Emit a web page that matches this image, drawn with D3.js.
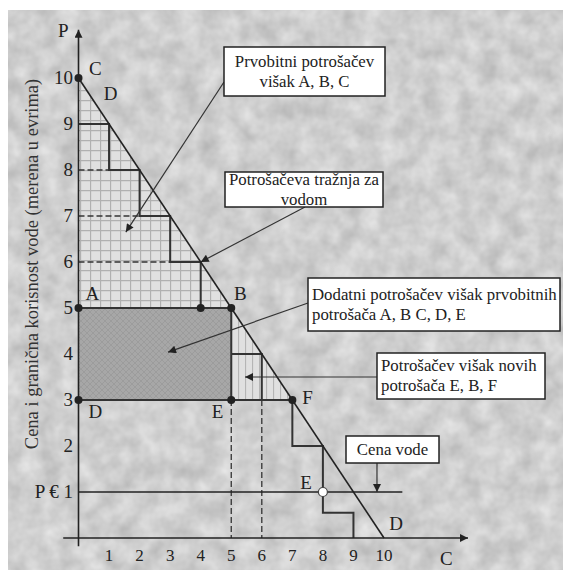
<!DOCTYPE html>
<html lang="en">
<head>
<meta charset="utf-8">
<title>Potrošačev višak - voda</title>
<script src="https://d3js.org/d3.v7.min.js"></script>
<style>
  body { margin: 0; background: #fff; }
</style>
</head>
<body>
<script>
// data (quantity C, price P)
const demandLine = [[0, 10], [10, 0]];
const stepsUpper = [[0, 9], [1, 9], [1, 8], [2, 8], [2, 7], [3, 7], [3, 6], [4, 6], [4, 5]];
const stepsLower = [[5, 4], [6, 4], [6, 3]];
const stepsTail = [[7, 3], [7, 2], [8, 2], [8, 0.55], [9, 0.55], [9, 0]];
const waterPrice = 1;
const priceLineEnd = 10.6;
const rectABED = { x0: 0, x1: 5, y0: 3, y1: 5 };
const triangleABC = [[0, 5], [0, 10], [5, 5]];
const triangleEBF = [[5, 5], [5, 3], [7, 3]];
const dashedH = [[8, 1], [7, 2], [6, 3]];      // [price, end quantity]
const dashedV = [5, 6];
const lineAF = [[0, 5], [5, 5]];
const lineDF = [[0, 3], [7, 3]];
const lineBE = [[5, 5], [5, 3]];
const dots = [[0, 10], [0, 5], [4, 5], [5, 5], [0, 3], [5, 3], [7, 3]];
const hollowDot = [8, 1];
const xTicks = [1, 2, 3, 4, 5, 6, 7, 8, 9, 10];
const yTicks = [2, 3, 4, 5, 6, 7, 8, 9, 10];
const pointLabels = [
  { t: "C", x: 0.55, y: 10.2 }, { t: "D", x: 1.05, y: 9.65 },
  { t: "A", x: 0.45, y: 5.3 }, { t: "B", x: 5.3, y: 5.3 },
  { t: "D", x: 0.55, y: 2.75 }, { t: "E", x: 4.55, y: 2.75 },
  { t: "F", x: 7.5, y: 3.05 }, { t: "E", x: 7.45, y: 1.2 },
  { t: "D", x: 10.4, y: 0.3 }
];
const notes = [
  { lines: ["Prvobitni potrošačev", "višak A, B, C"], box: [224, 47, 161, 49], from: [224, 82], tip: [1.55, 6.65], left: false },
  { lines: ["Potrošačeva tražnja za", "vodom"], box: [225, 172, 158, 35], from: [305, 207], tip: [4, 6], left: false },
  { lines: ["Dodatni potrošačev višak prvobitnih", "potrošača A, B C, D, E"], box: [308, 278, 252, 53], from: [308, 303], tip: [2.93, 4.04], left: true },
  { lines: ["Potrošačev višak novih", "potrošača E, B, F"], box: [377, 353, 168, 46], from: [377, 377], tip: [5.45, 3.5], left: true },
  { lines: ["Cena vode"], box: [346, 436, 93, 27], from: [377, 463], tip: [9.77, 1], left: false }
];

const w = 563, h = 570;
const svg = d3.select("body").append("svg").attr("width", w).attr("height", h)
  .attr("font-family", "'Liberation Serif', 'Times New Roman', 'DejaVu Serif', serif");
const defs = svg.append("defs");

// mottled paper background
const f = defs.append("filter").attr("id", "paper").attr("x", 0).attr("y", 0).attr("width", 1).attr("height", 1)
  .attr("color-interpolation-filters", "sRGB");
f.append("feTurbulence").attr("type", "fractalNoise").attr("baseFrequency", 0.05).attr("numOctaves", 3).attr("seed", 4);
f.append("feColorMatrix").attr("type", "matrix")
  .attr("values", "0.22 0 0 0 0.7  0.22 0 0 0 0.7  0.22 0 0 0 0.7  0 0 0 0 1");

const grid = defs.append("pattern").attr("id", "grid").attr("patternUnits", "userSpaceOnUse")
  .attr("width", 10).attr("height", 10);
grid.append("rect").attr("width", 10).attr("height", 10).attr("fill", "#e0e0e0");
grid.append("path").attr("d", "M0,0.5H10M0.5,0V10").attr("stroke", "#b0b0b0").attr("stroke-width", 1.3);

const vlines = defs.append("pattern").attr("id", "vlines").attr("patternUnits", "userSpaceOnUse")
  .attr("width", 7).attr("height", 7);
vlines.append("rect").attr("width", 7).attr("height", 7).attr("fill", "#e0e0e0");
vlines.append("path").attr("d", "M0.5,0V7").attr("stroke", "#b5b5b5").attr("stroke-width", 1.2);

const cross = defs.append("pattern").attr("id", "cross").attr("patternUnits", "userSpaceOnUse")
  .attr("width", 6).attr("height", 6);
cross.append("rect").attr("width", 6).attr("height", 6).attr("fill", "#a7a7a7");
cross.append("path").attr("d", "M0,0L6,6M6,0L0,6").attr("stroke", "#999").attr("stroke-width", 0.8);

const arrow = defs.append("marker").attr("id", "arr").attr("viewBox", "0 0 10 10")
  .attr("refX", 10).attr("refY", 5).attr("markerWidth", 13).attr("markerHeight", 8)
  .attr("markerUnits", "userSpaceOnUse").attr("orient", "auto");
arrow.append("path").attr("d", "M0,0L10,5L0,10z").attr("fill", "#222");

svg.append("rect").attr("x", 8).attr("y", 10).attr("width", w - 8).attr("height", h - 10)
  .attr("filter", "url(#paper)");

// scales
const x = d3.scaleLinear().domain([0, 10]).range([78.5, 384]);
const y = d3.scaleLinear().domain([0, 10]).range([538, 78]);
const line = d3.line().x(d => x(d[0])).y(d => y(d[1]));

// shaded areas
svg.append("path").attr("d", line(triangleABC) + "Z").attr("fill", "url(#grid)");
svg.append("path").attr("d", line(triangleEBF) + "Z").attr("fill", "url(#vlines)");
svg.append("rect")
  .attr("x", x(rectABED.x0)).attr("y", y(rectABED.y1))
  .attr("width", x(rectABED.x1) - x(rectABED.x0)).attr("height", y(rectABED.y0) - y(rectABED.y1))
  .attr("fill", "url(#cross)");

// dashed guides
svg.selectAll(".dh").data(dashedH).enter().append("line")
  .attr("x1", x(0)).attr("x2", d => x(d[1])).attr("y1", d => y(d[0])).attr("y2", d => y(d[0]))
  .attr("stroke", "#333").attr("stroke-width", 1.3).attr("stroke-dasharray", "6,3");
svg.selectAll(".dv").data(dashedV).enter().append("line")
  .attr("x1", d => x(d)).attr("x2", d => x(d)).attr("y1", y(3)).attr("y2", y(0))
  .attr("stroke", "#333").attr("stroke-width", 1.3).attr("stroke-dasharray", "6,3");

// price line
svg.append("line").attr("x1", x(0)).attr("x2", x(priceLineEnd))
  .attr("y1", y(waterPrice)).attr("y2", y(waterPrice)).attr("stroke", "#222").attr("stroke-width", 1.5);

// steps and boundaries
[stepsUpper, stepsLower, stepsTail, lineAF, lineDF, lineBE].forEach(s => {
  svg.append("path").attr("d", line(s)).attr("fill", "none")
    .attr("stroke", "#333").attr("stroke-width", 2);
});

// axes
svg.append("line").attr("x1", x(0)).attr("x2", x(0)).attr("y1", y(-0.18)).attr("y2", y(11.05))
  .attr("stroke", "#222").attr("stroke-width", 1.6).attr("marker-end", "url(#arr)");
svg.append("line").attr("x1", x(-0.5)).attr("x2", x(12.75)).attr("y1", y(0)).attr("y2", y(0))
  .attr("stroke", "#222").attr("stroke-width", 1.6).attr("marker-end", "url(#arr)");

// demand line
svg.append("path").attr("d", line(demandLine)).attr("stroke", "#222").attr("stroke-width", 1.6).attr("fill", "none");

// dots
svg.selectAll(".dot").data(dots).enter().append("circle")
  .attr("cx", d => x(d[0])).attr("cy", d => y(d[1])).attr("r", 4).attr("fill", "#222");
svg.append("circle").attr("cx", x(hollowDot[0])).attr("cy", y(hollowDot[1])).attr("r", 4.5)
  .attr("fill", "#fff").attr("stroke", "#444").attr("stroke-width", 1.2);

// tick labels
svg.selectAll(".xt").data(xTicks).enter().append("text")
  .attr("x", d => x(d)).attr("y", 561).attr("text-anchor", "middle")
  .attr("font-size", 17).attr("fill", "#222").text(d => d);
svg.selectAll(".yt").data(yTicks).enter().append("text")
  .attr("x", 73).attr("y", d => y(d) + 6).attr("text-anchor", "end")
  .attr("font-size", 19).attr("fill", "#222").text(d => d);
svg.append("text").attr("x", 73).attr("y", y(1) + 6).attr("text-anchor", "end")
  .attr("font-size", 19).attr("fill", "#222").text("P € 1");

// axis names
svg.append("text").attr("x", 58).attr("y", 37).attr("font-size", 19).attr("fill", "#222").text("P");
svg.append("text").attr("x", 440).attr("y", 565).attr("font-size", 19).attr("fill", "#222").text("C");
svg.append("text").attr("transform", "translate(38,264) rotate(-90)")
  .attr("text-anchor", "middle").attr("font-size", 18.5).attr("fill", "#333")
  .text("Cena i granična korisnost vode (merena u evrima)");

// point labels
svg.selectAll(".pl").data(pointLabels).enter().append("text")
  .attr("x", d => x(d.x)).attr("y", d => y(d.y) + 6).attr("text-anchor", "middle")
  .attr("font-size", 19).attr("fill", "#222").text(d => d.t);

// annotation boxes with leaders
notes.forEach(n => {
  svg.append("line").attr("x1", n.from[0]).attr("y1", n.from[1])
    .attr("x2", x(n.tip[0])).attr("y2", y(n.tip[1]))
    .attr("stroke", "#333").attr("stroke-width", 1.2).attr("marker-end", "url(#arr)");
  const [bx, by, bw, bh] = n.box;
  svg.append("rect").attr("x", bx).attr("y", by).attr("width", bw).attr("height", bh)
    .attr("fill", "#fff").attr("stroke", "#222").attr("stroke-width", 1.5);
  const lh = 20;
  const top = by + bh / 2 - (n.lines.length - 1) * lh / 2 + 5;
  n.lines.forEach((t, i) => {
    svg.append("text").attr("x", n.left ? bx + 4 : bx + bw / 2)
      .attr("y", top + i * lh)
      .attr("text-anchor", n.left ? "start" : "middle")
      .attr("font-size", 16.8).attr("fill", "#222").text(t);
  });
});
</script>
</body>
</html>
